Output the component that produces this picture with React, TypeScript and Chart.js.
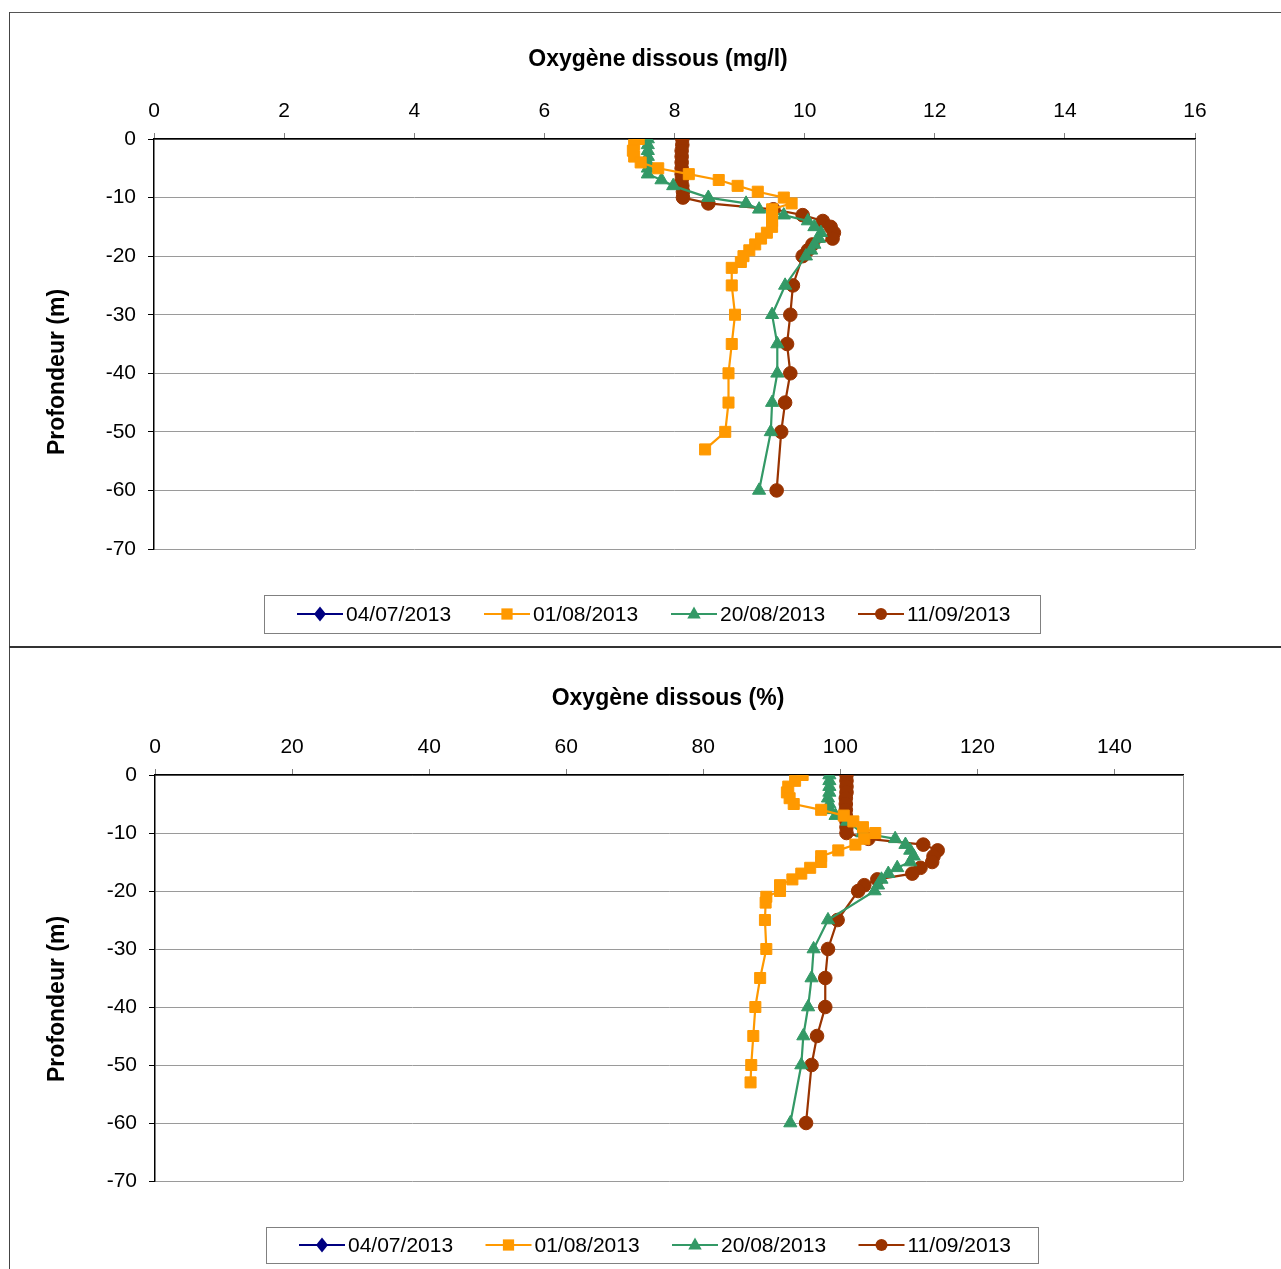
import React, { useEffect, useRef } from 'react';
import { Chart, registerables } from 'chart.js';

Chart.register(...registerables);

const FONT = 'Arial, "Liberation Sans", sans-serif';

// ---- Series meta ----
const SERIES_NAMES = ['04/07/2013', '01/08/2013', '20/08/2013', '11/09/2013'];
const SERIES_COLORS = ['#000080', '#FF9900', '#339966', '#993300'];
const SERIES_MARKERS = ['rectRot', 'rect', 'triangle', 'circle'];
const SERIES_RADII = [6, 7.8, 7.6, 6.8];

// ---- 04/07/2013 (no data plotted) ----
const DEPTH_0407: number[] = [];
const MGL_0407: number[] = [];
const PCT_0407: number[] = [];

// ---- 01/08/2013 ----
const DEPTH_0108 = [0, -1, -2, -3, -4, -5, -6, -7, -8, -9, -10, -11, -12, -13, -14, -15, -16, -17, -18, -19, -20, -21, -22, -25, -30, -35, -40, -45, -50, -53];
const MGL_0108 = [7.45, 7.38, 7.36, 7.38, 7.48, 7.75, 8.22, 8.68, 8.97, 9.28, 9.68, 9.8, 9.5, 9.5, 9.5, 9.5, 9.42, 9.33, 9.24, 9.15, 9.06, 9.02, 8.88, 8.88, 8.93, 8.88, 8.83, 8.83, 8.78, 8.47];
const PCT_0108 = [94.5, 93.4, 92.4, 92.2, 92.6, 93.2, 97.2, 100.5, 101.9, 103.3, 105.1, 103.5, 102.2, 99.7, 97.2, 97.2, 95.6, 94.3, 93.0, 91.2, 91.2, 89.2, 89.1, 89.0, 89.2, 88.3, 87.6, 87.3, 87.0, 86.9];

// ---- 20/08/2013 ----
const DEPTH_2008 = [0, -1, -2, -3, -4, -5, -6, -7, -8, -10, -11, -12, -13, -14, -15, -16, -17, -18, -19, -20, -25, -30, -35, -40, -45, -50, -60];
const MGL_2008 = [7.59, 7.59, 7.59, 7.59, 7.59, 7.59, 7.59, 7.8, 7.98, 8.52, 9.1, 9.3, 9.68, 10.05, 10.15, 10.25, 10.22, 10.15, 10.1, 10.02, 9.7, 9.5, 9.58, 9.58, 9.5, 9.48, 9.3];
const PCT_2008 = [98.4, 98.4, 98.4, 98.4, 98.2, 98.4, 98.5, 99.3, 101.0, 103.2, 108.0, 109.5, 110.2, 110.7, 110.2, 108.3, 107.0, 106.0, 105.5, 105.0, 98.2, 96.1, 95.8, 95.3, 94.6, 94.3, 92.7];

// ---- 11/09/2013 ----
const DEPTH_1109 = [0, -1, -2, -3, -4, -5, -6, -7, -8, -9, -10, -11, -12, -13, -14, -15, -16, -17, -18, -19, -20, -25, -30, -35, -40, -45, -50, -60];
const MGL_1109 = [8.12, 8.12, 8.11, 8.11, 8.11, 8.11, 8.11, 8.11, 8.12, 8.13, 8.13, 8.52, 9.52, 9.97, 10.28, 10.4, 10.45, 10.43, 10.12, 10.05, 9.97, 9.82, 9.78, 9.73, 9.78, 9.7, 9.64, 9.57];
const PCT_1109 = [100.9, 100.9, 100.9, 100.9, 100.8, 100.8, 100.8, 100.8, 100.9, 100.9, 100.9, 104.1, 112.1, 114.2, 113.6, 113.4, 111.7, 110.5, 105.4, 103.5, 102.6, 99.6, 98.2, 97.8, 97.8, 96.6, 95.8, 95.0];

// ---- Axes ----
const MGL_X_TICKS = [0, 2, 4, 6, 8, 10, 12, 14, 16];
const PCT_X_TICKS = [0, 20, 40, 60, 80, 100, 120, 140];
const DEPTH_TICKS = [0, -10, -20, -30, -40, -50, -60, -70];

const TITLE_MGL = 'Oxygène dissous (mg/l)';
const TITLE_PCT = 'Oxygène dissous (%)';
const Y_TITLE = 'Profondeur (m)';

type ChartCfg = {
  title: string;
  titleX: number;
  titleY: number;
  yTitleX: number;
  yTitleY: number;
  xTicks: number[];
  xMax: number;
  values: number[][];
  depths: number[][];
  areaLeft: number;
  areaTop: number;
  padRight: number;
  padBottom: number;
  legendBox: [number, number, number, number];
  legendX0: number;
  legendStep: number;
  legendY: number;
};

function drawMarker(ctx: CanvasRenderingContext2D, style: string, x: number, y: number, r: number) {
  ctx.beginPath();
  if (style === 'rectRot') {
    ctx.moveTo(x, y - r);
    ctx.lineTo(x + r * 0.8, y);
    ctx.lineTo(x, y + r);
    ctx.lineTo(x - r * 0.8, y);
    ctx.closePath();
  } else if (style === 'rect') {
    ctx.rect(x - r * 0.75, y - r * 0.75, r * 1.5, r * 1.5);
  } else if (style === 'triangle') {
    ctx.moveTo(x, y - r);
    ctx.lineTo(x + r * 0.9, y + r * 0.6);
    ctx.lineTo(x - r * 0.9, y + r * 0.6);
    ctx.closePath();
  } else {
    ctx.arc(x, y, r * 0.8, 0, Math.PI * 2);
  }
  ctx.fill();
}

function makeDecor(cfg: ChartCfg) {
  return {
    id: 'decor',
    beforeDatasetsDraw(chart: any) {
      const { ctx, chartArea: a } = chart;
      ctx.save();
      ctx.strokeStyle = '#8c8c8c';
      ctx.lineWidth = 1;
      const rx = Math.round(a.right) + 0.5;
      ctx.beginPath();
      ctx.moveTo(rx, a.top);
      ctx.lineTo(rx, a.bottom);
      ctx.stroke();
      ctx.restore();
    },
    afterDraw(chart: any) {
      const ctx: CanvasRenderingContext2D = chart.ctx;
      ctx.save();
      ctx.fillStyle = '#000';
      ctx.font = `bold 23px ${FONT}`;
      ctx.textAlign = 'center';
      ctx.textBaseline = 'middle';
      ctx.fillText(cfg.title, cfg.titleX, cfg.titleY);
      ctx.save();
      ctx.translate(cfg.yTitleX, cfg.yTitleY);
      ctx.rotate(-Math.PI / 2);
      ctx.fillText(Y_TITLE, 0, 0);
      ctx.restore();

      // legend
      const [bx, by, bw, bh] = cfg.legendBox;
      ctx.strokeStyle = '#808080';
      ctx.lineWidth = 1;
      ctx.strokeRect(bx + 0.5, by + 0.5, bw, bh);
      ctx.font = `21px ${FONT}`;
      ctx.textAlign = 'left';
      for (let i = 0; i < SERIES_NAMES.length; i++) {
        const lx = cfg.legendX0 + i * cfg.legendStep;
        const cy = cfg.legendY;
        ctx.strokeStyle = SERIES_COLORS[i];
        ctx.lineWidth = 2;
        ctx.beginPath();
        ctx.moveTo(lx, cy);
        ctx.lineTo(lx + 46, cy);
        ctx.stroke();
        ctx.fillStyle = SERIES_COLORS[i];
        drawMarker(ctx, SERIES_MARKERS[i], lx + 23, cy, 7.5);
        ctx.fillStyle = '#000';
        ctx.fillText(SERIES_NAMES[i], lx + 49, cy + 1);
      }
      ctx.restore();
    },
  };
}

function buildConfig(cfg: ChartCfg): any {
  const datasets = SERIES_NAMES.map((name, i) => ({
    label: name,
    data: cfg.depths[i].map((d, j) => ({ x: cfg.values[i][j], y: d })),
    showLine: true,
    borderColor: SERIES_COLORS[i],
    backgroundColor: SERIES_COLORS[i],
    borderWidth: 2.2,
    pointStyle: SERIES_MARKERS[i],
    pointRadius: SERIES_RADII[i],
    pointBorderWidth: 1,
    pointBorderColor: SERIES_COLORS[i],
    pointBackgroundColor: SERIES_COLORS[i],
    tension: 0,
  }));
  const tickFont = { size: 21, family: FONT };
  return {
    type: 'scatter',
    data: { datasets },
    options: {
      animation: false,
      responsive: false,
      maintainAspectRatio: false,
      layout: { padding: { left: 0, top: 0, right: cfg.padRight, bottom: cfg.padBottom } },
      plugins: {
        legend: { display: false },
        title: { display: false },
        tooltip: { enabled: false },
      },
      scales: {
        x: {
          type: 'linear',
          position: 'top',
          min: 0,
          max: cfg.xMax,
          ticks: { color: '#000', font: tickFont, padding: 9, maxRotation: 0, autoSkip: false },
          grid: { drawOnChartArea: false, drawTicks: true, tickLength: 6, tickColor: '#808080', tickWidth: 1 },
          border: { display: true, color: '#000', width: 1.5 },
          afterBuildTicks: (s: any) => {
            s.ticks = cfg.xTicks.map((v) => ({ value: v }));
          },
          afterFit: (s: any) => {
            s.height = cfg.areaTop;
          },
        },
        y: {
          type: 'linear',
          position: 'left',
          min: -70,
          max: 0,
          ticks: { color: '#000', font: tickFont, padding: 12, autoSkip: false },
          grid: { color: '#9a9a9a', lineWidth: 1, drawTicks: true, tickLength: 6, tickColor: '#000', tickWidth: 1 },
          border: { display: true, color: '#000', width: 1.5 },
          afterBuildTicks: (s: any) => {
            s.ticks = DEPTH_TICKS.map((v) => ({ value: v }));
          },
          afterFit: (s: any) => {
            s.width = cfg.areaLeft;
          },
        },
      },
    },
    plugins: [makeDecor(cfg)],
  };
}

function OxygenChart(props: { left: number; top: number; width: number; height: number; cfg: ChartCfg }) {
  const ref = useRef<HTMLCanvasElement>(null);
  useEffect(() => {
    if (!ref.current) return;
    const chart = new Chart(ref.current, buildConfig(props.cfg));
    return () => chart.destroy();
  }, []);
  return (
    <canvas
      ref={ref}
      width={props.width}
      height={props.height}
      style={{ position: 'absolute', left: props.left, top: props.top, width: props.width, height: props.height }}
    />
  );
}

const TOP_CFG: ChartCfg = {
  title: TITLE_MGL,
  titleX: 648,
  titleY: 47,
  yTitleX: 48,
  yTitleY: 359,
  xTicks: MGL_X_TICKS,
  xMax: 16,
  values: [MGL_0407, MGL_0108, MGL_2008, MGL_1109],
  depths: [DEPTH_0407, DEPTH_0108, DEPTH_2008, DEPTH_1109],
  areaLeft: 144,
  areaTop: 126,
  padRight: 86,
  padBottom: 97,
  legendBox: [254, 582, 776, 38],
  legendX0: 287,
  legendStep: 187,
  legendY: 601,
};

const BOTTOM_CFG: ChartCfg = {
  title: TITLE_PCT,
  titleX: 658,
  titleY: 51,
  yTitleX: 48,
  yTitleY: 351,
  xTicks: PCT_X_TICKS,
  xMax: 150,
  values: [PCT_0407, PCT_0108, PCT_2008, PCT_1109],
  depths: [DEPTH_0407, DEPTH_0108, DEPTH_2008, DEPTH_1109],
  areaLeft: 145,
  areaTop: 127,
  padRight: 98,
  padBottom: 88,
  legendBox: [256, 579, 772, 36],
  legendX0: 289,
  legendStep: 186.5,
  legendY: 597,
};

export default function App() {
  return (
    <div style={{ position: 'fixed', left: 0, top: 0, width: 1281, height: 1269, overflow: 'hidden', background: '#fff' }}>
      <div style={{ position: 'absolute', left: 9, top: 12, width: 1300, height: 1, background: '#555' }} />
      <div style={{ position: 'absolute', left: 9, top: 12, width: 1, height: 1300, background: '#444' }} />
      <div style={{ position: 'absolute', left: 9, top: 646, width: 1300, height: 2, background: '#333' }} />
      <OxygenChart left={10} top={13} width={1271} height={633} cfg={TOP_CFG} />
      <OxygenChart left={10} top={648} width={1271} height={621} cfg={BOTTOM_CFG} />
    </div>
  );
}
